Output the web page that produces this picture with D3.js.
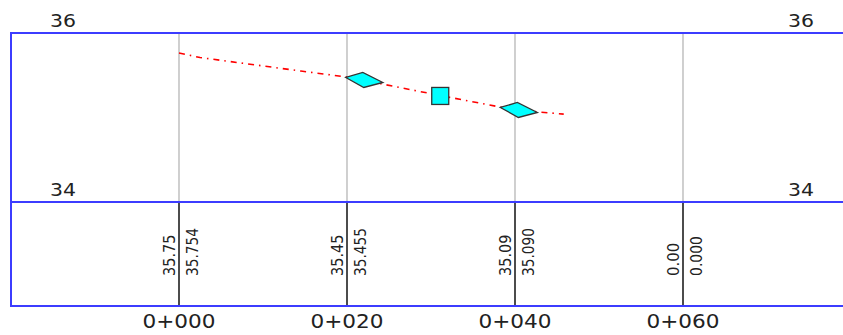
<!DOCTYPE html>
<html><head><meta charset="utf-8">
<script src="https://cdn.jsdelivr.net/npm/d3@7"></script>
<style>body{margin:0;background:#fff}svg{display:block}</style>
</head><body>
<script>
// ---- data ----
const stations = [0, 20, 40, 60];
const stationLabels = ["0+000", "0+020", "0+040", "0+060"];
const designElev = ["35.75", "35.45", "35.09", "0.00"];
const groundElev = ["35.754", "35.455", "35.090", "0.000"];
const elevTicks = [36, 34];
const lineStation = [0, 2.5, 14.5, 20, 31, 40, 45.8];
const lineElev = [35.764, 35.71, 35.55, 35.479, 35.262, 35.09, 35.04];
const diamondStation = [22.0, 40.4];
const diamondElev = [35.444, 35.089];
const squareStation = [31.1];
const squareElev = [35.255];

const W = 843, H = 335;
const svg = d3.select("body").append("svg").attr("width", W).attr("height", H);
const x = d3.scaleLinear().domain([0, 60]).range([179, 683]);
const y = d3.scaleLinear().domain([34, 36]).range([202, 33]);
const bandTop = 202, bandBot = 306, left = 11;
const blue = "#3c3cff";
const font = "'DejaVu Sans', sans-serif";

// gray grid verticals in profile area
svg.selectAll(".grid").data(stations).enter().append("line")
  .attr("x1", d => x(d)).attr("x2", d => x(d))
  .attr("y1", y(36)).attr("y2", y(34))
  .attr("stroke", "#c4c4c4").attr("stroke-width", 1.6);

// black verticals in band
svg.selectAll(".bv").data(stations).enter().append("line")
  .attr("x1", d => x(d)).attr("x2", d => x(d))
  .attr("y1", bandTop).attr("y2", bandBot)
  .attr("stroke", "#111").attr("stroke-width", 1.5);

// blue frame
[y(36), bandTop, bandBot].forEach(v => {
  svg.append("line").attr("x1", left).attr("x2", W).attr("y1", v).attr("y2", v)
    .attr("stroke", blue).attr("stroke-width", 2);
});
svg.append("line").attr("x1", left).attr("x2", left).attr("y1", y(36) - 1).attr("y2", bandBot + 1)
  .attr("stroke", blue).attr("stroke-width", 2);

// elevation labels
elevTicks.forEach(t => {
  [63, 801].forEach(cx => {
    svg.append("text").text(t).attr("x", cx).attr("y", y(t) - 6)
      .attr("text-anchor", "middle").attr("font-family", font).attr("font-size", 18)
      .attr("fill", "#222").attr("textLength", 26).attr("lengthAdjust", "spacingAndGlyphs");
  });
});

// ground line
const line = d3.line().x((d, i) => x(lineStation[i])).y((d, i) => y(lineElev[i]));
svg.append("path").datum(lineStation).attr("d", line)
  .attr("fill", "none").attr("stroke", "#ff0000").attr("stroke-width", 1.6)
  .attr("stroke-dasharray", "6,5,1.5,5");

// diamonds
const dShape = "M-18,-2.5 L-1,-7.5 L19,2.5 L0,7.5 Z";
svg.selectAll(".dia").data(diamondStation).enter().append("path")
  .attr("d", dShape)
  .attr("transform", (d, i) => `translate(${x(d)},${y(diamondElev[i])})`)
  .attr("fill", "#00ffff").attr("stroke", "#333").attr("stroke-width", 1.3);

// square
svg.selectAll(".sq").data(squareStation).enter().append("rect")
  .attr("x", d => x(d) - 8.5).attr("y", (d, i) => y(squareElev[i]) - 8.5)
  .attr("width", 17).attr("height", 17)
  .attr("fill", "#00ffff").attr("stroke", "#333").attr("stroke-width", 1.3);

// band labels
stations.forEach((s, i) => {
  const sx = x(s);
  svg.append("text").text(designElev[i])
    .attr("transform", `translate(${sx - 4},276) rotate(-90)`)
    .attr("font-family", font).attr("font-size", 15).attr("fill", "#222")
    .attr("textLength", designElev[i].length * 8.3).attr("lengthAdjust", "spacingAndGlyphs");
  svg.append("text").text(groundElev[i])
    .attr("transform", `translate(${sx + 19},276) rotate(-90)`)
    .attr("font-family", font).attr("font-size", 15).attr("fill", "#222")
    .attr("textLength", groundElev[i].length * 8.0).attr("lengthAdjust", "spacingAndGlyphs");
  svg.append("text").text(stationLabels[i])
    .attr("x", sx).attr("y", 328).attr("text-anchor", "middle")
    .attr("font-family", font).attr("font-size", 20).attr("fill", "#222")
    .attr("textLength", 73).attr("lengthAdjust", "spacingAndGlyphs");
});
</script>
</body></html>
